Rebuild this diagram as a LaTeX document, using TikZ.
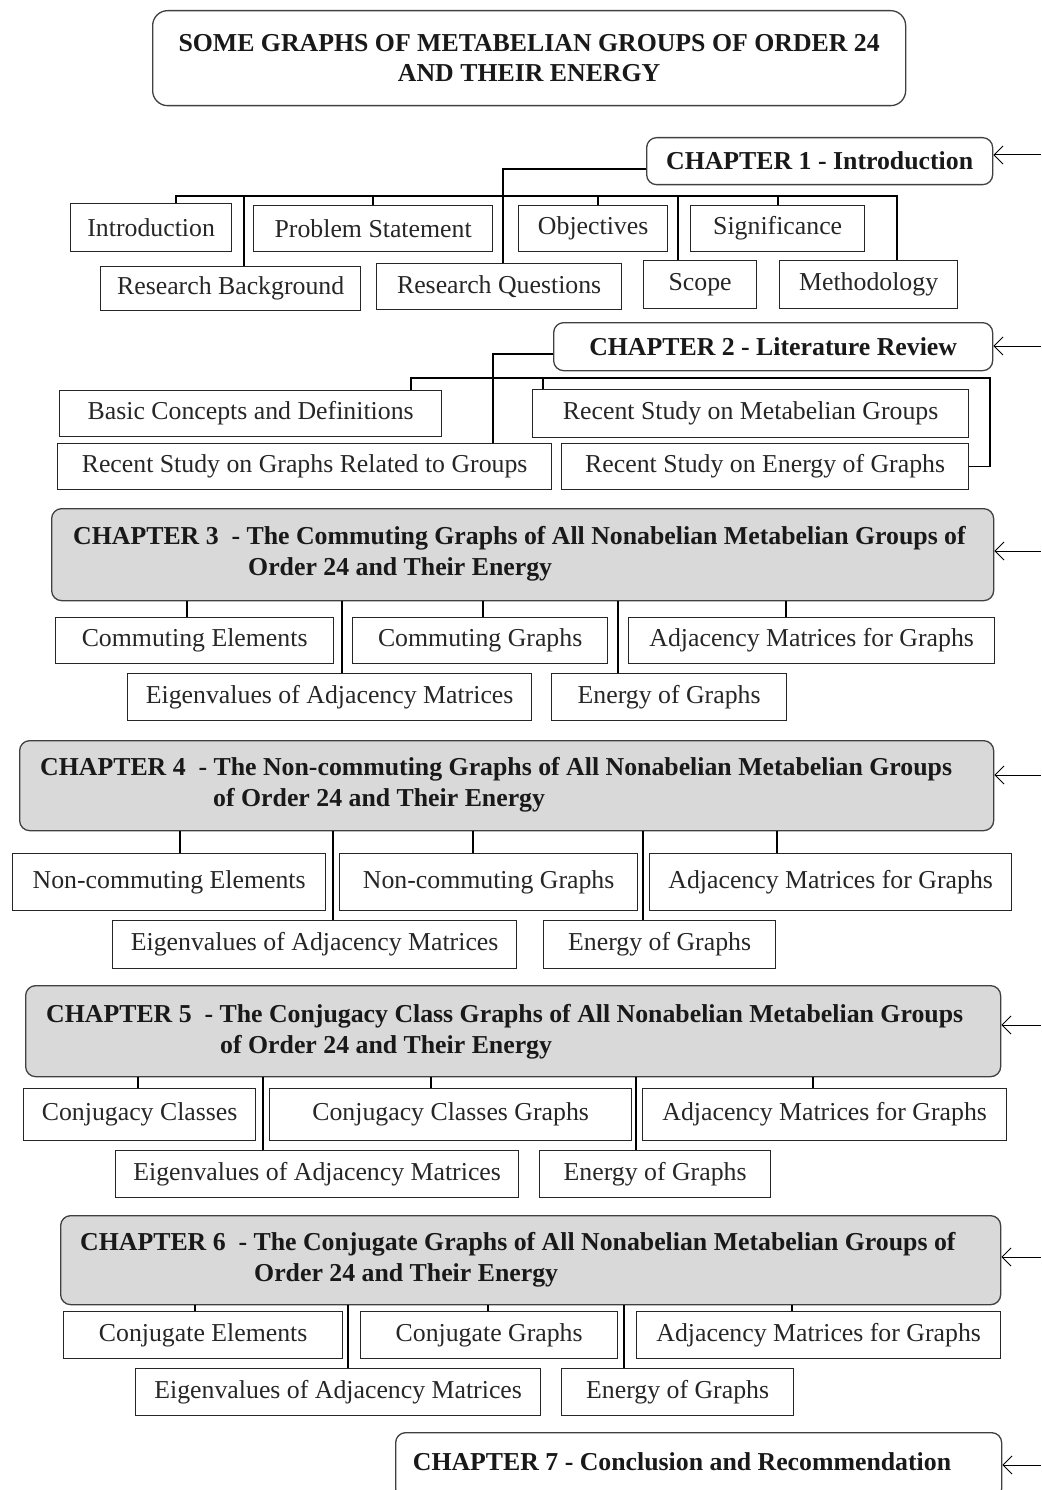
\documentclass[tikz,border=0pt]{standalone}
\usepackage{fontspec}
\setmainfont{Liberation Serif}
\usetikzlibrary{arrows.meta}
\newcommand\subsz{\fontsize{25.8}{29}\selectfont}
\newcommand\chsz{\fontsize{25.8}{30}\selectfont\bfseries}
\begin{document}
\begin{tikzpicture}[x=1pt,y=-1pt,
 sub/.style={draw=black!85, line width=1.3pt, inner sep=0pt, anchor=north west, font=\subsz, text=black!85},
 chapw/.style={draw=black!75, line width=1.3pt, rounded corners=10pt, fill=white, anchor=north west, inner sep=0pt, font=\chsz, text=black!90},
 chapg/.style={chapw, fill=gray!30},
 chtext/.style={anchor=west, inner sep=0pt, font=\chsz, text=black!90},
 conn/.style={line width=1.3pt, draw=black},
 arr/.style={line width=1pt, -{Straight Barb[length=9pt,width=18pt]}},
]
\useasboundingbox (0,0) rectangle (1041,1490);
% title
\node[chapw, rounded corners=15pt, minimum width=753pt, minimum height=95pt, align=center] (title) at (152,10) {SOME GRAPHS OF METABELIAN GROUPS OF ORDER 24\\AND THEIR ENERGY};
% chapter 1
\node[chapw, minimum width=346pt, minimum height=47pt] (c1) at (646,137) {CHAPTER 1 - Introduction};
\node[sub, minimum width=161pt, minimum height=48pt] (intro) at (70,203) {Introduction};
\node[sub, minimum width=239pt, minimum height=46pt] (ps) at (253,205) {Problem Statement};
\node[sub, minimum width=149pt, minimum height=46pt] (obj) at (518,205) {Objectives};
\node[sub, minimum width=174pt, minimum height=46pt] (sig) at (690,205) {Significance};
\node[sub, minimum width=260pt, minimum height=44pt] (rb) at (100,266) {Research Background};
\node[sub, minimum width=245pt, minimum height=46pt] (rq) at (376,263) {Research Questions};
\node[sub, minimum width=113pt, minimum height=48pt] (scope) at (643,260) {Scope};
\node[sub, minimum width=178pt, minimum height=48pt] (meth) at (779,260) {Methodology};
% chapter 2
\node[chapw, minimum width=439pt, minimum height=48pt] (c2) at (553,322) {CHAPTER 2 - Literature Review};
\node[sub, minimum width=382pt, minimum height=46pt] (bc) at (59,390) {Basic Concepts and Definitions};
\node[sub, minimum width=436pt, minimum height=48pt] (rsm) at (532,389) {Recent Study on Metabelian Groups};
\node[sub, minimum width=494pt, minimum height=46pt] (rsg) at (57,443) {Recent Study on Graphs Related to Groups};
\node[sub, minimum width=407pt, minimum height=46pt] (rse) at (561,443) {Recent Study on Energy of Graphs};
% chapter 3
\node[chapg, minimum width=942pt, minimum height=92pt] (c3) at (51,508) {};
\node[chtext] (c3a) at (73,538) {CHAPTER 3\ \ - The Commuting Graphs of All Nonabelian Metabelian Groups of};
\node[chtext] (c3b) at (248,569) {Order 24 and Their Energy};
\node[sub, minimum width=278pt, minimum height=46pt] (ce3) at (55,617) {Commuting Elements};
\node[sub, minimum width=255pt, minimum height=46pt] (cg3) at (352,617) {Commuting Graphs};
\node[sub, minimum width=366pt, minimum height=46pt] (am3) at (628,617) {Adjacency Matrices for Graphs};
\node[sub, minimum width=404pt, minimum height=47pt] (ev3) at (127,673) {Eigenvalues of Adjacency Matrices};
\node[sub, minimum width=235pt, minimum height=47pt] (eg3) at (551,673) {Energy of Graphs};
% chapter 4
\node[chapg, minimum width=974pt, minimum height=90pt] (c4) at (19,740) {};
\node[chtext] (c4a) at (40,769) {CHAPTER 4\ \ - The Non-commuting Graphs of All Nonabelian Metabelian Groups};
\node[chtext] (c4b) at (213,800) {of Order 24 and Their Energy};
\node[sub, minimum width=313pt, minimum height=57pt] (ce4) at (12,853) {Non-commuting Elements};
\node[sub, minimum width=298pt, minimum height=57pt] (cg4) at (339,853) {Non-commuting Graphs};
\node[sub, minimum width=362pt, minimum height=57pt] (am4) at (649,853) {Adjacency Matrices for Graphs};
\node[sub, minimum width=404pt, minimum height=48pt] (ev4) at (112,920) {Eigenvalues of Adjacency Matrices};
\node[sub, minimum width=232pt, minimum height=48pt] (eg4) at (543,920) {Energy of Graphs};
% chapter 5
\node[chapg, minimum width=975pt, minimum height=91pt] (c5) at (25,985) {};
\node[chtext] (c5a) at (46,1016) {CHAPTER 5\ \ - The Conjugacy Class Graphs of All Nonabelian Metabelian Groups};
\node[chtext] (c5b) at (220,1047) {of Order 24 and Their Energy};
\node[sub, minimum width=232pt, minimum height=52pt] (ce5) at (23,1088) {Conjugacy Classes};
\node[sub, minimum width=362pt, minimum height=52pt] (cg5) at (269,1088) {Conjugacy Classes Graphs};
\node[sub, minimum width=364pt, minimum height=52pt] (am5) at (642,1088) {Adjacency Matrices for Graphs};
\node[sub, minimum width=403pt, minimum height=47pt] (ev5) at (115,1150) {Eigenvalues of Adjacency Matrices};
\node[sub, minimum width=231pt, minimum height=47pt] (eg5) at (539,1150) {Energy of Graphs};
% chapter 6
\node[chapg, minimum width=940pt, minimum height=89pt] (c6) at (60,1215) {};
\node[chtext] (c6a) at (80,1244) {CHAPTER 6\ \ - The Conjugate Graphs of All Nonabelian Metabelian Groups of};
\node[chtext] (c6b) at (254,1275) {Order 24 and Their Energy};
\node[sub, minimum width=279pt, minimum height=47pt] (ce6) at (63,1311) {Conjugate Elements};
\node[sub, minimum width=257pt, minimum height=47pt] (cg6) at (360,1311) {Conjugate Graphs};
\node[sub, minimum width=364pt, minimum height=47pt] (am6) at (636,1311) {Adjacency Matrices for Graphs};
\node[sub, minimum width=405pt, minimum height=47pt] (ev6) at (135,1368) {Eigenvalues of Adjacency Matrices};
\node[sub, minimum width=232pt, minimum height=47pt] (eg6) at (561,1368) {Energy of Graphs};
% chapter 7
\node[chapw, minimum width=606pt, minimum height=66pt] (c7) at (395,1432) {};
\node[chtext, anchor=center] (c7t) at (682,1462) {CHAPTER 7 - Conclusion and Recommendation};

% connectors chapter 1
\coordinate (j1) at (503,169);
\draw[conn] (c1.west |- j1) -- (j1) -- (j1 |- rq.north);
\coordinate (b1l) at (176,196);
\coordinate (b1r) at (897,196);
\draw[conn] (intro.north -| b1l) -- (b1l) -- (b1r) -- (b1r |- meth.north);
\draw[conn] (373,196) -- (ps.north -| 373,0);
\draw[conn] (598,196) -- (obj.north -| 598,0);
\draw[conn] (778,196) -- (sig.north -| 778,0);
\draw[conn] (244,196) -- (rb.north -| 244,0);
\draw[conn] (678,196) -- (scope.north -| 678,0);
% chapter 2
\coordinate (j2) at (493,354);
\draw[conn] (c2.west |- j2) -- (j2) -- (j2 |- rsg.north);
\coordinate (b2l) at (411,378);
\coordinate (b2r) at (990,378);
\draw[conn] (bc.north -| b2l) -- (b2l) -- (b2r) |- (rse.east);
\draw[conn] (543,378) -- (rsm.north -| 543,0);
% chapters 3-6
\foreach \xx/\tg in {187/ce3,483/cg3,786/am3,342/ev3,618/eg3}
  \draw[conn] (c3.south -| \xx,0) -- (\tg.north -| \xx,0);
\foreach \xx/\tg in {180/ce4,473/cg4,777/am4,333/ev4,643/eg4}
  \draw[conn] (c4.south -| \xx,0) -- (\tg.north -| \xx,0);
\foreach \xx/\tg in {138/ce5,431/cg5,813/am5,263/ev5,636/eg5}
  \draw[conn] (c5.south -| \xx,0) -- (\tg.north -| \xx,0);
\foreach \xx/\tg in {195/ce6,488/cg6,792/am6,348/ev6,624/eg6}
  \draw[conn] (c6.south -| \xx,0) -- (\tg.north -| \xx,0);
% arrows
\foreach \yy/\tg in {155/c1,346/c2,551/c3,775/c4,1025/c5,1257/c6,1465/c7}
  \draw[arr] (1041,\yy) -- (\tg.east |- 0,\yy);
\end{tikzpicture}
\end{document}
